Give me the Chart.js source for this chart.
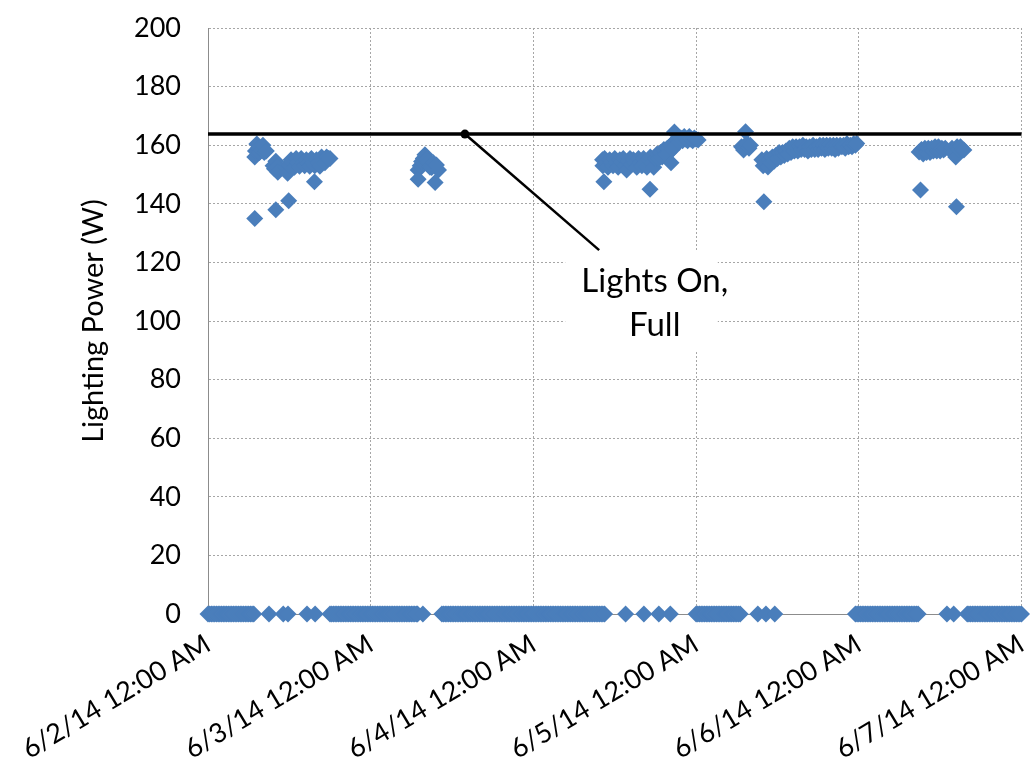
<!DOCTYPE html>
<html><head><meta charset="utf-8">
<script src="https://cdn.jsdelivr.net/npm/chart.js@4"></script>
<style>html,body{margin:0;padding:0;background:#fff}#wrap{width:1030px;height:777px;position:relative}</style>
</head><body><div id="wrap"><canvas id="c"></canvas></div>
<script>
// Tick labels for day boundaries (x in hours since 6/2/14 12:00 AM)
const xTickLabels = ['6/2/14 12:00 AM','6/3/14 12:00 AM','6/4/14 12:00 AM','6/5/14 12:00 AM','6/6/14 12:00 AM','6/7/14 12:00 AM'];
const yAxisTitle = 'Lighting Power (W)';

// Readings at 0 W (hours since start)
const offHours = [
  0,0.25,0.5,0.75,1,1.25,1.5,1.75,2,2.25,2.5,2.75,3,3.25,3.5,3.75,4,4.25,4.5,4.75,5,5.25,5.5,5.75,6,6.25,6.5,6.75,
  9.0,11.1,11.8,14.6,15.8,
  18,18.25,18.5,18.75,19,19.25,19.5,19.75,20,20.25,20.5,20.75,21,21.25,21.5,21.75,22,22.25,22.5,22.75,23,23.25,23.5,23.75,
  24,24.25,24.5,24.75,25,25.25,25.5,25.75,26,26.25,26.5,26.75,27,27.25,27.5,27.75,28,28.25,28.5,28.75,29,29.25,29.5,29.75,30,30.25,30.5,30.75,30.9,
  31.7,
  34.5,34.75,35,35.25,35.5,35.75,36,36.25,36.5,36.75,37,37.25,37.5,37.75,38,38.25,38.5,38.75,39,39.25,39.5,39.75,
  40,40.25,40.5,40.75,41,41.25,41.5,41.75,42,42.25,42.5,42.75,43,43.25,43.5,43.75,44,44.25,44.5,44.75,45,45.25,45.5,45.75,
  46,46.25,46.5,46.75,47,47.25,47.5,47.75,48,48.25,48.5,48.75,49,49.25,49.5,49.75,50,50.25,50.5,50.75,51,51.25,51.5,51.75,
  52,52.25,52.5,52.75,53,53.25,53.5,53.75,54,54.25,54.5,54.75,55,55.25,55.5,55.75,56,56.25,56.5,56.75,57,57.25,57.5,57.75,58,58.25,58.5,
  61.6,64.3,66.5,68.2,
  72,72.25,72.5,72.75,73,73.25,73.5,73.75,74,74.25,74.5,74.75,75,75.25,75.5,75.75,76,76.25,76.5,76.75,77,77.25,77.5,77.75,78,78.25,78.5,
  81.1,82.3,83.6,
  95.5,95.75,96,96.25,96.5,96.75,97,97.25,97.5,97.75,98,98.25,98.5,98.75,99,99.25,99.5,99.75,100,100.25,100.5,100.75,
  101,101.25,101.5,101.75,102,102.25,102.5,102.75,103,103.25,103.5,103.75,104,104.25,104.5,104.75,
  109.0,110.0,
  112,112.25,112.5,112.75,113,113.25,113.5,113.75,114,114.25,114.5,114.75,115,115.25,115.5,115.75,116,116.25,116.5,116.75,
  117,117.25,117.5,117.75,118,118.25,118.5,118.75,119,119.25,119.5,119.75,120];

// Readings with lights on: hours and watts
const onHours = [
  // 6/2
  6.9,7.0,7.2,7.4,7.6,7.9,8.1,8.3,8.6,6.9,
  9.6,9.8,10.0,10.2,10.3,10.0,11.9,
  11.5,11.75,12.0,12.25,12.5,12.75,13.0,13.25,13.5,13.75,14.0,14.25,14.5,14.75,15.0,15.25,15.5,15.75,16.0,16.25,16.5,16.75,17.0,17.25,17.5,17.75,18.0,15.7,
  // 6/3
  31.0,31.0,31.3,31.5,31.75,32.0,32.25,32.5,32.75,33.0,33.25,33.5,33.7,34.0,
  // 6/4
  58.2,58.25,58.4,58.5,58.75,59.0,59.25,59.5,59.75,60.0,60.25,60.5,60.75,61.0,61.25,61.5,61.75,62.0,62.25,62.5,62.75,63.0,63.25,63.5,63.75,
  64.0,64.25,64.5,64.75,65.0,65.2,65.25,65.5,65.75,66.0,66.25,66.5,66.75,67.0,67.25,67.5,67.75,68.0,68.3,68.25,68.5,68.75,68.8,
  69.0,69.25,69.5,69.75,70.0,70.25,70.5,70.75,71.0,71.25,71.5,71.75,72.0,72.3,
  // 6/5
  78.7,79.0,79.3,79.5,79.8,80.0,
  81.7,82.0,81.9,82.2,82.4,82.6,82.8,83.0,83.25,83.5,83.75,84.0,84.25,84.5,84.75,85.0,85.25,85.5,85.75,86.0,86.25,86.5,86.75,
  87.0,87.25,87.5,87.75,88.0,88.25,88.5,88.75,89.0,89.25,89.5,89.75,90.0,90.25,90.5,90.75,91.0,91.25,91.5,91.75,
  92.0,92.25,92.5,92.75,93.0,93.25,93.5,93.75,94.0,94.25,94.5,94.75,95.0,95.25,95.5,95.7,
  // 6/6
  104.9,105.1,105.25,105.5,105.75,106.0,106.25,106.5,106.75,107.0,107.25,107.5,107.75,108.0,108.25,108.5,108.75,
  109.6,109.75,110.0,110.3,110.4,110.5,110.75,111.0,111.25,111.5];
const onWatts = [
  // 6/2
  156,158,160.4,159,157.5,158.4,160,157.5,158,135,
  153,152,154.5,152.5,150.8,138,141,
  152.5,150.4,153,155,154,152.5,155.5,154,152.8,155.5,154,153,155,154,152.8,155.5,154,153,155,154,152.8,156,155,154,156,155.5,155.5,147.5,
  // 6/3
  151.5,148.4,153,154.4,155.5,156.7,155,154.4,152.5,152.4,154,147.3,153.2,151.5,
  // 6/4
  155,153,147.5,155.5,154,152.5,155,154,153,155.5,154,152.5,155,154,155.5,153,151.5,154.5,155.5,153.5,155,154,152.5,155.5,154,
  153,155.5,154,152.5,155,145,156,154,152.5,155.5,157,155.5,157.5,156,158.5,157,159,157.5,154,160,158.5,161,164.5,
  160,162,161,162.5,161.5,163,162,161.5,163,162,161.5,162.5,162,161.8,
  // 6/5
  159.5,158.4,164.6,160.6,159,160,
  155,140.7,153,153.8,155.5,152.6,155,154,156,154.5,156.5,155.5,157.5,156,157.5,156.5,158,157,159,157.5,159.5,158,159.5,
  158,159.5,158.5,160,158.5,159.5,158,159.5,158.5,160,158.5,159.5,158.5,160,159,160,158.5,160,159,160,
  159,160,158.5,160,159,160,159.5,160,159,160.5,159.5,160,159.5,160.5,160,160.6,
  // 6/6
  157.7,144.7,158.5,157,159,157.5,159,157.5,159,158,159.5,158,159.5,158,159,158.4,159,
  158,159,157.5,156,139,159.5,158.5,159.5,158.5,158.4];

// Reference level "Lights On, Full" and its callout (data units)
const fullPowerLevel = 163.8;
const calloutText = ['Lights On,', 'Full'];
const calloutAnchor = {x: 37.9, y: 163.8};
const calloutElbow = {x: 57.7, y: 124.2};
const calloutBox = {x0: 52.7, x1: 75.2, y0: 124.2, y1: 89.4};
const calloutTextPos = {x: 65.9, y1: 113.6, y2: 98.6};

const FONT = 'Lato, "Open Sans", sans-serif';

const points = offHours.map(h => ({x: h, y: 0}))
  .concat(onHours.map((h, i) => ({x: h, y: onWatts[i]})));

const calloutPlugin = {
  id: 'callout',
  beforeDatasetsDraw(chart) {
    const {ctx, scales: {x, y}} = chart;
    ctx.save();
    ctx.fillStyle = '#fff';
    const l = x.getPixelForValue(calloutBox.x0), r = x.getPixelForValue(calloutBox.x1);
    const t = y.getPixelForValue(calloutBox.y0), b = y.getPixelForValue(calloutBox.y1);
    ctx.fillRect(l, t, r - l, b - t);
    ctx.restore();
  },
  afterDatasetsDraw(chart) {
    const {ctx, scales: {x, y}} = chart;
    ctx.save();
    const ax = x.getPixelForValue(calloutAnchor.x), ay = y.getPixelForValue(calloutAnchor.y);
    const ex = x.getPixelForValue(calloutElbow.x), ey = y.getPixelForValue(calloutElbow.y);
    ctx.strokeStyle = '#000';
    ctx.lineWidth = 2.5;
    ctx.beginPath(); ctx.moveTo(ax, ay); ctx.lineTo(ex, ey); ctx.stroke();
    ctx.fillStyle = '#000';
    ctx.beginPath(); ctx.arc(ax, ay, 4.5, 0, Math.PI * 2); ctx.fill();
    ctx.font = '33px ' + FONT;
    ctx.textAlign = 'center';
    ctx.textBaseline = 'middle';
    const tx = x.getPixelForValue(calloutTextPos.x);
    ctx.fillText(calloutText[0], tx, y.getPixelForValue(calloutTextPos.y1));
    ctx.fillText(calloutText[1], tx, y.getPixelForValue(calloutTextPos.y2));
    ctx.restore();
  }
};

new Chart(document.getElementById('c'), {
  type: 'scatter',
  data: {
    datasets: [
      {
        type: 'line',
        data: [{x: 0, y: fullPowerLevel}, {x: 120, y: fullPowerLevel}],
        borderColor: '#000', borderWidth: 3.5, pointRadius: 0, fill: false, order: 0, clip: false
      },
      {
        data: points,
        pointStyle: 'rectRot', pointRadius: 8.5, pointHoverRadius: 8.5,
        backgroundColor: '#4a7ebb', borderColor: '#4a7ebb', borderWidth: 0, order: 1, clip: false
      }
    ]
  },
  options: {
    responsive: true, maintainAspectRatio: false, animation: false,
    layout: {padding: {top: 28, right: 2, left: 0, bottom: 0}},
    plugins: {legend: {display: false}, tooltip: {enabled: false}},
    scales: {
      x: {
        type: 'linear', min: 0, max: 120,
        afterBuildTicks(s) { s.ticks = xTickLabels.map((_, i) => ({value: i * 24})); },
        afterFit(s) { s.height = 163; s.paddingLeft = 0; s.paddingRight = 0; },
        ticks: {
          callback: v => xTickLabels[Math.round(v / 24)],
          minRotation: 31, maxRotation: 31, autoSkip: false,
          font: {size: 27, family: FONT}, color: '#000', padding: 14
        },
        grid: {color: '#a6a6a6', lineWidth: 1, drawTicks: false},
        border: {color: '#8c8c8c', width: 1, dash: [2, 2]}
      },
      y: {
        min: 0, max: 200,
        afterFit(s) { s.width = 208; s.paddingTop = 0; s.paddingBottom = 0; },
        ticks: {stepSize: 20, font: {size: 27, family: FONT}, color: '#000', padding: 27},
        grid: {color: '#a6a6a6', lineWidth: 1, drawTicks: false},
        border: {color: '#8c8c8c', width: 1, dash: [2, 2]},
        title: {display: true, text: yAxisTitle, font: {size: 29, family: FONT}, color: '#000', padding: {top: 76, bottom: 0}}
      }
    }
  },
  plugins: [calloutPlugin]
});
</script>
</body></html>
